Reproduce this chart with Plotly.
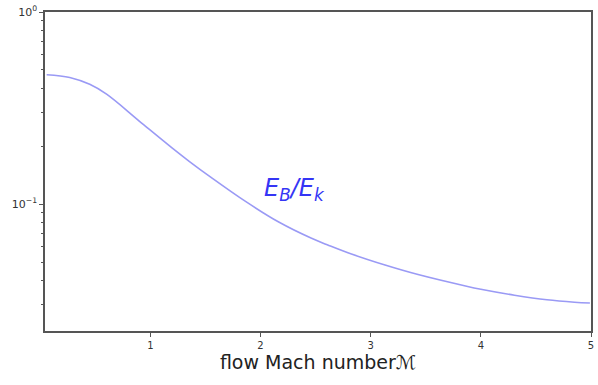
import plotly.graph_objects as go

# Magnetic-to-kinetic energy ratio versus flow Mach number
mach = [0.058, 0.268, 0.449, 0.602, 0.901, 1.199, 1.352, 1.56, 1.867, 2.165,
        2.463, 2.62, 2.825, 3.13, 3.43, 3.88, 4.0, 4.305, 4.60, 4.85, 4.99]
ratio = [0.4717, 0.4567, 0.4203, 0.3734, 0.2700, 0.1957, 0.1672, 0.1366, 0.1030,
         0.0807, 0.0664, 0.0610, 0.0550, 0.0482, 0.0430, 0.0373, 0.0361, 0.0336,
         0.0318, 0.0309, 0.0306]

x_ticks = [1, 2, 3, 4, 5]
y_ticks = [0.1, 1.0]
y_tick_text = ["10<sup>\u22121</sup>", "10<sup>0</sup>"]
y_minor = [0.03, 0.04, 0.05, 0.06, 0.07, 0.08, 0.09,
           0.2, 0.3, 0.4, 0.5, 0.6, 0.7, 0.8, 0.9]

fig = go.Figure()
fig.add_trace(go.Scatter(
    x=mach, y=ratio, mode="lines",
    line=dict(color="#9a9af5", width=1.6, shape="spline", smoothing=1.0),
    showlegend=False,
))

fig.add_annotation(
    x=2.31, y=-0.925, xref="x", yref="y",
    text="<i>E<sub>B</sub>/E<sub>k</sub></i>",
    showarrow=False,
    font=dict(family="DejaVu Sans", size=24, color="#3535f5"),
)

axis_common = dict(
    showline=True, linecolor="#555555", linewidth=1.5, mirror=True,
    ticks="outside", ticklen=4, tickcolor="#555555",
    showgrid=False, zeroline=False,
)

fig.update_layout(
    width=598, height=385,
    margin=dict(l=45, r=4, t=9, b=54),
    paper_bgcolor="white", plot_bgcolor="white",
    font=dict(family="DejaVu Sans", color="#333333"),
    xaxis=dict(
        range=[0.043, 5.0], tickvals=x_ticks,
        tickfont=dict(size=10),
        title=dict(text="flow Mach number\u2133", font=dict(size=19, color="#222222"),
                   standoff=4),
        **axis_common,
    ),
    yaxis=dict(
        type="log", range=[-1.66, 0.0],
        tickvals=y_ticks, ticktext=y_tick_text,
        tickfont=dict(size=11),
        minor=dict(tickvals=y_minor, ticks="outside", ticklen=2, tickcolor="#555555",
                   showgrid=False),
        **axis_common,
    ),
)

fig.write_html("out.html")
